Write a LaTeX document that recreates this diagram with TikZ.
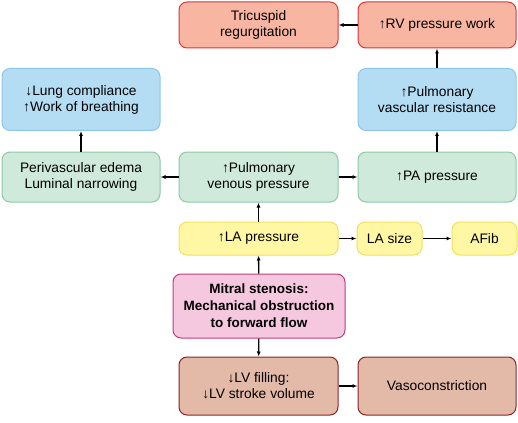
\documentclass[tikz,border=0pt]{standalone}
\usepackage{fontspec}
\setmainfont{Liberation Sans}
\usetikzlibrary{arrows.meta}
\definecolor{redfill}{HTML}{F8B6A2}
\definecolor{redline}{HTML}{D8383F}
\definecolor{bluefill}{HTML}{B4DDF3}
\definecolor{blueline}{HTML}{8CC7EA}
\definecolor{greenfill}{HTML}{CFE9DA}
\definecolor{greenline}{HTML}{8CCAA6}
\definecolor{yelfill}{HTML}{FFF7A3}
\definecolor{yelline}{HTML}{F0E060}
\definecolor{pinkfill}{HTML}{F6C8E0}
\definecolor{pinkline}{HTML}{C23C7E}
\definecolor{brownfill}{HTML}{E3B9A8}
\definecolor{brownline}{HTML}{8A2328}
\tikzset{
  box/.style={rectangle, rounded corners=8pt, line width=1pt, align=center,
    inner sep=0pt, font=\fontsize{13.8}{16}\selectfont},
  redbox/.style={box, fill=redfill, draw=redline},
  bluebox/.style={box, fill=bluefill, draw=blueline},
  greenbox/.style={box, fill=greenfill, draw=greenline},
  yelbox/.style={box, fill=yelfill, draw=yelline},
  pinkbox/.style={box, fill=pinkfill, draw=pinkline, font=\bfseries\fontsize{13.5}{17}\selectfont},
  brownbox/.style={box, fill=brownfill, draw=brownline},
  conn/.style={-{Latex[length=5pt,width=4pt]}, line width=1.4pt, black}
}
\begin{document}
\begin{tikzpicture}[x=1pt,y=-1pt]
\useasboundingbox (0,0) rectangle (518,422);
\node[redbox, minimum width=159pt, minimum height=46pt] (tr) at (258.5,25) {Tricuspid\\regurgitation};
\node[redbox, minimum width=158pt, minimum height=46pt] (rv) at (437,25) {↑RV pressure work};
\node[bluebox, minimum width=158pt, minimum height=62pt] (lung) at (81,99.5) {↓Lung compliance\\↑Work of breathing};
\node[bluebox, minimum width=158pt, minimum height=62pt] (pvr) at (437,99.5) {↑Pulmonary\\vascular resistance};
\node[greenbox, minimum width=158pt, minimum height=50pt] (peri) at (81,177) {Perivascular edema\\Luminal narrowing};
\node[greenbox, minimum width=159pt, minimum height=50pt] (pvp) at (258.5,177) {↑Pulmonary\\venous pressure};
\node[greenbox, minimum width=158pt, minimum height=50pt] (pa) at (437,177) {↑PA pressure};
\node[yelbox, minimum width=159pt, minimum height=33pt] (la) at (258.5,238.5) {↑LA pressure};
\node[yelbox, minimum width=65pt, minimum height=33pt] (las) at (389.5,238.5) {LA size};
\node[yelbox, minimum width=65pt, minimum height=33pt] (af) at (484.5,238.5) {AFib};
\node[pinkbox, minimum width=172pt, minimum height=64pt] (ms) at (259,306) {Mitral stenosis:\\Mechanical obstruction\\to forward flow};
\node[brownbox, minimum width=159pt, minimum height=58pt] (lv) at (258.5,386) {↓LV filling:\\↓LV stroke volume};
\node[brownbox, minimum width=158pt, minimum height=58pt] (vc) at (437,386) {Vasoconstriction};
\draw[conn] (rv) -- (tr);
\draw[conn] (pvr) -- (rv);
\draw[conn] (pa) -- (pvr);
\draw[conn] (pvp) -- (pa);
\draw[conn] (pvp) -- (peri);
\draw[conn] (peri) -- (lung);
\draw[conn] (la) -- (pvp);
\draw[conn] (la) -- (las);
\draw[conn] (las) -- (af);
\draw[conn] (ms) -- (la);
\draw[conn] (ms) -- (lv);
\draw[conn] (lv) -- (vc);
\end{tikzpicture}
\end{document}
